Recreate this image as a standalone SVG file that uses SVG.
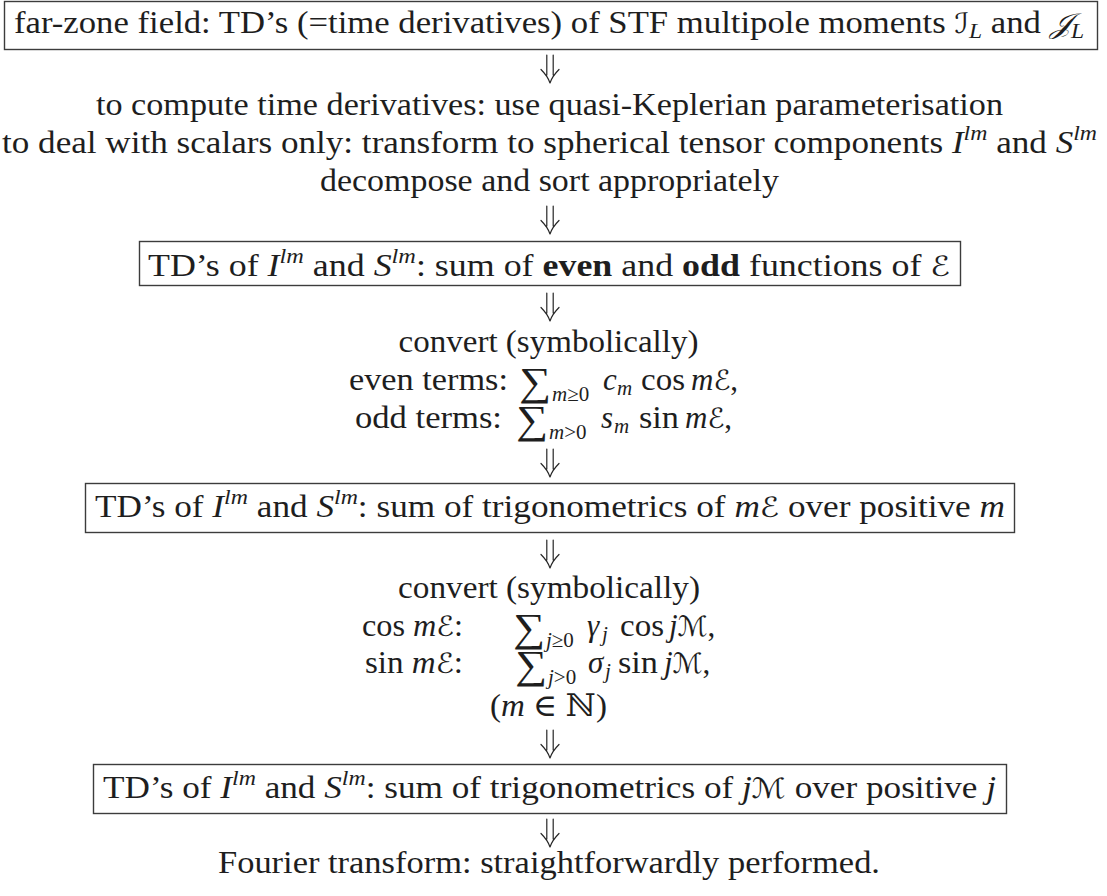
<svg xmlns="http://www.w3.org/2000/svg" xmlns:xlink="http://www.w3.org/1999/xlink" width="1107" height="896" viewBox="0 0 1107 896">
<style>
text { font-family: "Liberation Serif", "DejaVu Serif", serif; font-size: 31px; fill: #1e1e1e; }
.c { text-anchor: middle; }
.i { font-style: italic; }
.s { font-size: 21px; }
.b { font-weight: bold; }
.sc { font-family: "DejaVu Serif", "DejaVu Sans", serif; font-style: italic; font-size: 28px; }
.sum { font-family: "Liberation Serif", serif; font-size: 40px; }
.box { fill: #ffffff; stroke: #3c3c3c; stroke-width: 1.4; }
.arr { fill: none; stroke: #262626; stroke-width: 1.2; stroke-linecap: round; }
</style>
<defs>
<path id="dn" class="arr" d="M-3.2,0 V20 M3.2,0 V20 M-9,14.5 C-5,18.5 -1.8,22.5 0,28 M9,14.5 C5,18.5 1.8,22.5 0,28"/>
</defs>
<rect width="1107" height="896" fill="#ffffff"/>

<g id="connectors">
<use xlink:href="#dn" transform="translate(550,55)"/>
<use xlink:href="#dn" transform="translate(550,206)"/>
<use xlink:href="#dn" transform="translate(550,293)"/>
<use xlink:href="#dn" transform="translate(550,449)"/>
<use xlink:href="#dn" transform="translate(550,540)"/>
<use xlink:href="#dn" transform="translate(550,730)"/>
<use xlink:href="#dn" transform="translate(550,819)"/>
</g>

<g id="node-farzone">
<rect class="box" x="4.5" y="1.5" width="1093" height="48"/>
<text class="c" x="549" y="33" textLength="1070" lengthAdjust="spacingAndGlyphs">far-zone field: TD’s (=time derivatives) of STF multipole moments <tspan class="sc">ℐ</tspan><tspan class="i s" dy="5">L</tspan><tspan dy="-5"> and </tspan><tspan class="sc">𝒥</tspan><tspan class="i s" dy="5">L</tspan></text>
</g>

<g id="node-steps">
<text class="c" x="549.5" y="115" textLength="907" lengthAdjust="spacingAndGlyphs">to compute time derivatives: use quasi-Keplerian parameterisation</text>
<text class="c" x="549.5" y="153" textLength="1095" lengthAdjust="spacingAndGlyphs">to deal with scalars only: transform to spherical tensor components <tspan class="i">I</tspan><tspan class="i s" dy="-13">lm</tspan><tspan dy="13"> and </tspan><tspan class="i">S</tspan><tspan class="i s" dy="-13">lm</tspan></text>
<text class="c" x="549.5" y="191" textLength="459" lengthAdjust="spacingAndGlyphs">decompose and sort appropriately</text>
</g>

<g id="node-evenodd">
<rect class="box" x="139.5" y="241.5" width="821" height="44"/>
<text class="c" x="549" y="276" textLength="802" lengthAdjust="spacingAndGlyphs">TD’s of <tspan class="i">I</tspan><tspan class="i s" dy="-13">lm</tspan><tspan dy="13"> and </tspan><tspan class="i">S</tspan><tspan class="i s" dy="-13">lm</tspan><tspan dy="13">: sum of </tspan><tspan class="b">even</tspan> and <tspan class="b">odd</tspan> functions of <tspan class="sc">ℰ</tspan></text>
</g>

<g id="node-convert1">
<text class="c" x="548.5" y="352" textLength="300" lengthAdjust="spacingAndGlyphs">convert (symbolically)</text>
<text x="349" y="390" textLength="159" lengthAdjust="spacingAndGlyphs">even terms:</text>
<text class="sum" x="519" y="395" textLength="32" lengthAdjust="spacingAndGlyphs">∑</text>
<text class="i s" x="552" y="401">m<tspan font-style="normal">≥0</tspan></text>
<text class="i" x="603" y="390">c</text>
<text class="i s" x="617" y="395">m</text>
<text x="641" y="390" textLength="44" lengthAdjust="spacingAndGlyphs">cos</text>
<text x="691" y="390"><tspan class="i">m</tspan><tspan class="sc">ℰ</tspan>,</text>
<text x="355" y="428" textLength="147" lengthAdjust="spacingAndGlyphs">odd terms:</text>
<text class="sum" x="516" y="433" textLength="32" lengthAdjust="spacingAndGlyphs">∑</text>
<text class="i s" x="549" y="439">m<tspan font-style="normal">&gt;0</tspan></text>
<text class="i" x="601" y="428">s</text>
<text class="i s" x="614" y="433">m</text>
<text x="639" y="428" textLength="40" lengthAdjust="spacingAndGlyphs">sin</text>
<text x="685" y="428"><tspan class="i">m</tspan><tspan class="sc">ℰ</tspan>,</text>
</g>

<g id="node-trigm">
<rect class="box" x="85.5" y="483.5" width="929" height="49"/>
<text class="c" x="550" y="517" textLength="910" lengthAdjust="spacingAndGlyphs">TD’s of <tspan class="i">I</tspan><tspan class="i s" dy="-13">lm</tspan><tspan dy="13"> and </tspan><tspan class="i">S</tspan><tspan class="i s" dy="-13">lm</tspan><tspan dy="13">: sum of trigonometrics of </tspan><tspan class="i">m</tspan><tspan class="sc">ℰ</tspan> over positive <tspan class="i">m</tspan></text>
</g>

<g id="node-convert2">
<text class="c" x="549" y="598" textLength="302" lengthAdjust="spacingAndGlyphs">convert (symbolically)</text>
<text x="362" y="636" textLength="101" lengthAdjust="spacingAndGlyphs">cos <tspan class="i">m</tspan><tspan class="sc">ℰ</tspan>:</text>
<text class="sum" x="513" y="641" textLength="32" lengthAdjust="spacingAndGlyphs">∑</text>
<text class="i s" x="546" y="647">j<tspan font-style="normal">≥0</tspan></text>
<text class="i" x="587" y="636">γ</text>
<text class="i s" x="602" y="641">j</text>
<text x="620" y="636" textLength="44" lengthAdjust="spacingAndGlyphs">cos</text>
<text x="669" y="636"><tspan class="i">j</tspan><tspan class="sc">ℳ</tspan>,</text>
<text x="365" y="673" textLength="98" lengthAdjust="spacingAndGlyphs">sin <tspan class="i">m</tspan><tspan class="sc">ℰ</tspan>:</text>
<text class="sum" x="515" y="678" textLength="32" lengthAdjust="spacingAndGlyphs">∑</text>
<text class="i s" x="548" y="684">j<tspan font-style="normal">&gt;0</tspan></text>
<text class="i" x="588" y="673">σ</text>
<text class="i s" x="605" y="678">j</text>
<text x="618" y="673" textLength="40" lengthAdjust="spacingAndGlyphs">sin</text>
<text x="664" y="673"><tspan class="i">j</tspan><tspan class="sc">ℳ</tspan>,</text>
<text class="c" x="548.5" y="716" textLength="117" lengthAdjust="spacingAndGlyphs">(<tspan class="i">m</tspan> ∈ <tspan font-family="DejaVu Serif">ℕ</tspan>)</text>
</g>

<g id="node-trigj">
<rect class="box" x="93.5" y="764.5" width="913" height="49"/>
<text class="c" x="549.5" y="798" textLength="893" lengthAdjust="spacingAndGlyphs">TD’s of <tspan class="i">I</tspan><tspan class="i s" dy="-13">lm</tspan><tspan dy="13"> and </tspan><tspan class="i">S</tspan><tspan class="i s" dy="-13">lm</tspan><tspan dy="13">: sum of trigonometrics of </tspan><tspan class="i">j</tspan><tspan class="sc">ℳ</tspan> over positive <tspan class="i">j</tspan></text>
</g>

<g id="node-fourier">
<text class="c" x="549" y="873" textLength="662" lengthAdjust="spacingAndGlyphs">Fourier transform: straightforwardly performed.</text>
</g>
</svg>
